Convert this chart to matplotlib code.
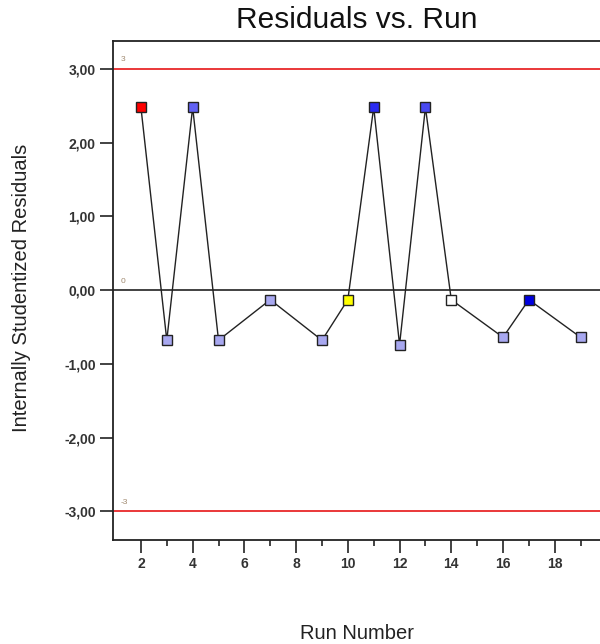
import matplotlib
matplotlib.use("Agg")
import matplotlib.pyplot as plt
from matplotlib.ticker import MultipleLocator, FuncFormatter, FixedLocator

plt.rcParams['font.family'] = ['Liberation Sans', 'DejaVu Sans']

runs = [2, 3, 4, 5, 7, 9, 10, 11, 12, 13, 14, 16, 17, 19]
residuals = [2.48, -0.68, 2.48, -0.68, -0.13, -0.68, -0.13, 2.48, -0.74, 2.48, -0.13, -0.64, -0.13, -0.64]
colors = ['#ff0000', '#a8a8f0', '#6262f4', '#a8a8f0', '#a8a8f0', '#a8a8f0', '#ffff00',
          '#2a2af0', '#a8a8f0', '#4848f0', '#ffffff', '#a8a8f0', '#0000e0', '#a8a8f0']
x_major = [2, 4, 6, 8, 10, 12, 14, 16, 18]
x_minor = [3, 5, 7, 9, 11, 13, 15, 17, 19]
limits = [3, 0, -3]
limit_labels = ['3', '0', '-3']
limit_colors = ['#e8272a', '#333333', '#e8272a']

fig = plt.figure(figsize=(6.0, 6.44), dpi=100)
ax = fig.add_axes([113/600, 1-540/644, 1-113/600, 499/644])

for v, lab, c in zip(limits, limit_labels, limit_colors):
    ax.axhline(v, color=c, lw=1.3, zorder=1)
    ax.annotate(lab, xy=(0.0165, v), xycoords=ax.get_yaxis_transform(),
                xytext=(0, 4), textcoords='offset points', fontsize=6,
                color='#a08a70', va='bottom', ha='left')

ax.plot(runs, residuals, color='#222222', lw=1.0, zorder=2)
for x, y, c in zip(runs, residuals, colors):
    ax.plot([x], [y], marker='s', ms=6.8, mfc=c, mec='#222222', mew=1.0, zorder=3, ls='none')

ax.set_xlim(0.92, 19.75)
ax.set_ylim(-3.39, 3.38)

ax.xaxis.set_major_locator(FixedLocator(x_major))
ax.xaxis.set_minor_locator(FixedLocator(x_minor))
ax.yaxis.set_major_locator(MultipleLocator(1))
ax.yaxis.set_major_formatter(FuncFormatter(lambda v, p: f"{v:.2f}".replace('.', ',').replace('-0,00', '0,00')))

ax.tick_params(axis='both', which='major', length=9.5, width=1.2, labelsize=10, pad=3, color='#222222')
ax.tick_params(axis='x', which='minor', length=4.5, width=1.2, color='#222222')
for lab in ax.get_xticklabels() + ax.get_yticklabels():
    lab.set_fontweight('bold')
    lab.set_color('#333333')

for s in ['left', 'bottom', 'top']:
    ax.spines[s].set_linewidth(1.3)
    ax.spines[s].set_color('#222222')
ax.spines['right'].set_visible(False)

ax.set_xlabel('Run Number', fontsize=14.5, color='#222222')
ax.xaxis.set_label_coords(0.5, -0.168)
ax.set_ylabel('Internally Studentized Residuals', fontsize=14.5, color='#222222')
ax.yaxis.set_label_coords(-0.168, 0.505)

fig.text(0.595, 1-20/644, 'Residuals vs. Run', fontsize=21.5, ha='center', va='center', color='#111111')

fig.savefig('out.png', dpi=100)
